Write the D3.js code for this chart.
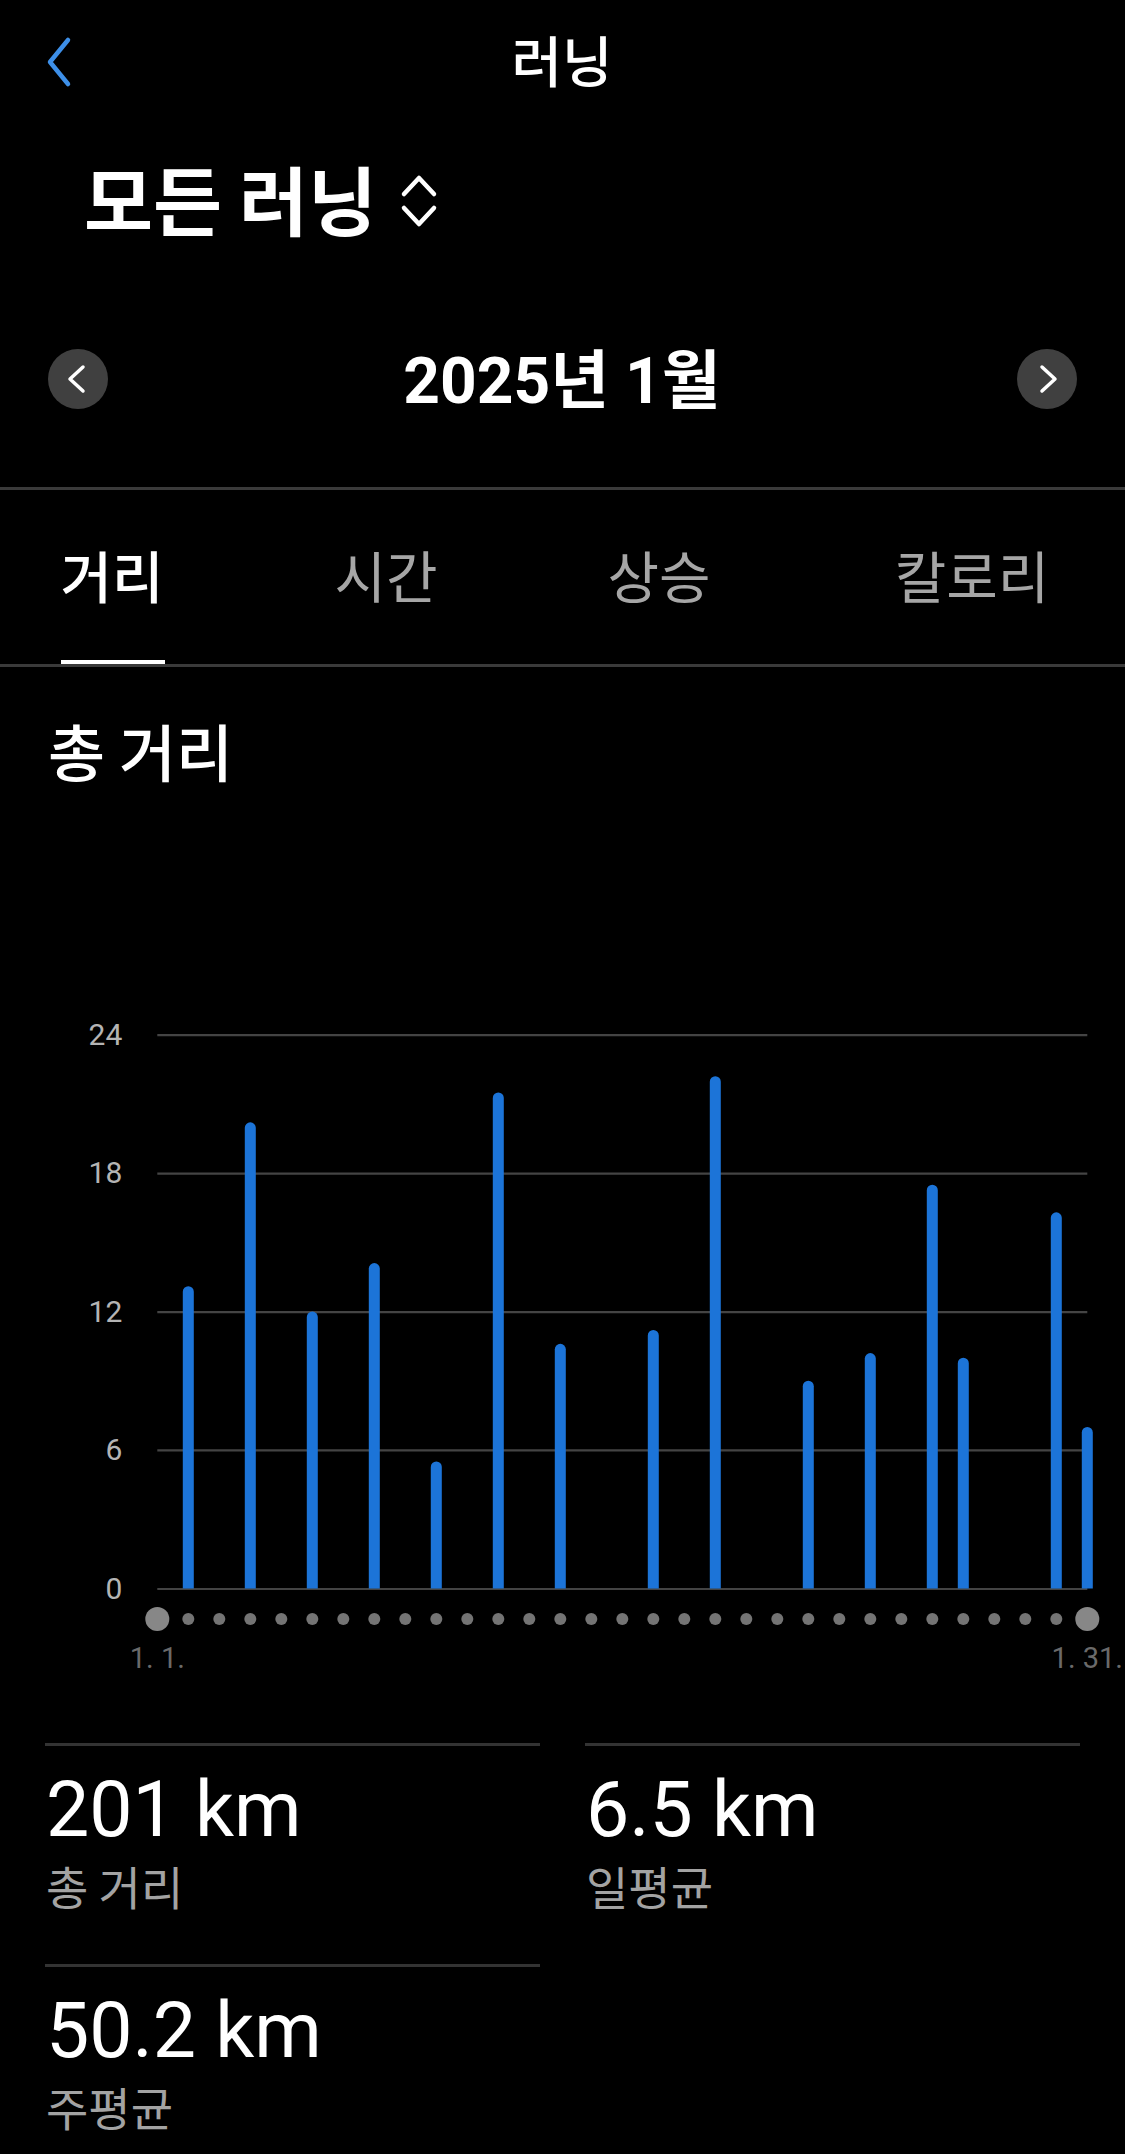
<!DOCTYPE html>
<html>
<head>
<meta charset="utf-8">
<style>
  html, body { margin: 0; padding: 0; background: #000; }
  svg { display: block; background: #000; }
  .kr { font-family: "Noto Sans CJK KR", sans-serif; }
  .num { font-family: Roboto, "Noto Sans CJK KR", sans-serif; }
</style>
<script src="https://cdnjs.cloudflare.com/ajax/libs/d3/7.8.5/d3.min.js"></script>
</head>
<body>
<div id="page"></div>
<script>
// data (January 2025, km per run)
const runDays = [2, 4, 6, 8, 10, 12, 14, 17, 19, 22, 24, 26, 27, 30, 31];
const runKm = [13.1, 20.2, 12.0, 14.1, 5.5, 21.5, 10.6, 11.2, 22.2, 9.0, 10.2, 17.5, 10.0, 16.3, 7.0];
const allDays = d3.range(1, 32);
const yTicks = [0, 6, 12, 18, 24];
const dayLabels = ["1. 1.", "1. 31."];
const tabNames = ["거리", "시간", "상승", "칼로리"];
const statValues = ["201 km", "6.5 km", "50.2 km"];
const statNames = ["총 거리", "일평균", "주평균"];

const W = 1125, H = 2154;

const svg = d3.select("#page").append("svg")
    .attr("width", W)
    .attr("height", H);

// ---- header ----
svg.append("path")
    .attr("d", "M68,40 L50,62 L68,84")
    .attr("fill", "none")
    .attr("stroke", "#3d8fe8")
    .attr("stroke-width", 4.5)
    .attr("stroke-linecap", "round")
    .attr("stroke-linejoin", "round");

svg.append("text").attr("class", "kr")
    .attr("x", 562).attr("y", 82)
    .attr("text-anchor", "middle")
    .attr("font-size", 55).attr("font-weight", 500)
    .attr("fill", "#fff")
    .text("러닝");

svg.append("text").attr("class", "kr")
    .attr("x", 84).attr("y", 230)
    .attr("font-size", 75).attr("font-weight", 700)
    .attr("letter-spacing", 0)
    .attr("fill", "#fff")
    .text("모든 러닝");

// up/down chevrons
svg.append("path")
    .attr("d", "M404,194 L419,178 L434,194 M404,208 L419,224 L434,208")
    .attr("fill", "none")
    .attr("stroke", "#fff")
    .attr("stroke-width", 4.5)
    .attr("stroke-linecap", "round")
    .attr("stroke-linejoin", "round");

// month selector
const navBtns = [{cx: 78, dir: -1}, {cx: 1047, dir: 1}];
svg.selectAll("circle.nav")
  .data(navBtns)
  .join("circle")
    .attr("class", "nav")
    .attr("cx", d => d.cx).attr("cy", 379).attr("r", 30)
    .attr("fill", "#404040");
svg.selectAll("path.navArrow")
  .data(navBtns)
  .join("path")
    .attr("class", "navArrow")
    .attr("d", d => d.dir < 0
        ? `M${d.cx + 5},367 L${d.cx - 8},379 L${d.cx + 5},391`
        : `M${d.cx - 5},367 L${d.cx + 8},379 L${d.cx - 5},391`)
    .attr("fill", "none")
    .attr("stroke", "#fff")
    .attr("stroke-width", 3.5)
    .attr("stroke-linecap", "round")
    .attr("stroke-linejoin", "round");

svg.append("text").attr("class", "num")
    .attr("x", 562).attr("y", 403)
    .attr("text-anchor", "middle")
    .attr("font-size", 64).attr("font-weight", 700)
    .attr("fill", "#fff")
    .text("2025년 1월");

// ---- tabs ----
svg.append("rect").attr("x", 0).attr("y", 487).attr("width", W).attr("height", 3).attr("fill", "#3a3a3a");
svg.append("rect").attr("x", 0).attr("y", 664).attr("width", W).attr("height", 3).attr("fill", "#3a3a3a");

const tabX = [112, 386, 659, 972];
svg.selectAll("text.tab")
  .data(tabNames)
  .join("text")
    .attr("class", "tab kr")
    .attr("x", (d, i) => tabX[i]).attr("y", 598)
    .attr("text-anchor", "middle")
    .attr("font-size", 56)
    .attr("font-weight", (d, i) => i === 0 ? 500 : 400)
    .attr("fill", (d, i) => i === 0 ? "#fff" : "#a6a6a6")
    .text(d => d);
svg.append("rect").attr("x", 61).attr("y", 660).attr("width", 104).attr("height", 4).attr("fill", "#fff");

svg.append("text").attr("class", "kr")
    .attr("x", 48).attr("y", 777)
    .attr("font-size", 62).attr("font-weight", 500)
    .attr("fill", "#fff")
    .text("총 거리");

// ---- chart ----
const x = d3.scaleLinear().domain([1, 31]).range([157.3, 1087.3]);
const y = d3.scaleLinear().domain([0, 24]).range([1588.4, 1034.7]);

const yAxis = svg.append("g")
    .attr("transform", `translate(${x(1)},0)`)
    .call(d3.axisLeft(y).tickValues(yTicks).tickSize(-(x(31) - x(1))).tickPadding(35));
yAxis.select(".domain").remove();
yAxis.selectAll(".tick line")
    .attr("stroke", d => d === 0 ? "#5a5a5a" : "#444")
    .attr("stroke-width", d => d === 0 ? 1.5 : 2.2);
yAxis.selectAll(".tick text")
    .attr("class", "num")
    .attr("font-size", 30)
    .attr("fill", "#b4b4b4");

const bw = 11, br = bw / 2;
svg.append("g")
  .selectAll("path")
  .data(runDays.map((d, i) => ({day: d, km: runKm[i]})))
  .join("path")
    .attr("d", d => {
      const cx = x(d.day), top = y(d.km), base = y(0);
      return `M${cx - br},${base} V${top + br} A${br},${br} 0 0 1 ${cx + br},${top + br} V${base} Z`;
    })
    .attr("fill", "#1c74d8");

svg.append("g")
  .selectAll("circle")
  .data(allDays)
  .join("circle")
    .attr("cx", d => x(d))
    .attr("cy", 1619)
    .attr("r", d => (d === 1 || d === 31) ? 12 : 6)
    .attr("fill", d => (d === 1 || d === 31) ? "#878787" : "#747474");

svg.selectAll("text.dayLabel")
  .data(dayLabels)
  .join("text")
    .attr("class", "dayLabel num")
    .attr("x", (d, i) => i === 0 ? x(1) : x(31))
    .attr("y", 1668)
    .attr("text-anchor", "middle")
    .attr("font-size", 29)
    .attr("fill", "#6a6a6a")
    .text(d => d);

// ---- summary ----
const statPos = [{x: 45, y: 1743}, {x: 585, y: 1743}, {x: 45, y: 1964}];
svg.selectAll("rect.sep")
  .data(statPos)
  .join("rect")
    .attr("class", "sep")
    .attr("x", d => d.x).attr("y", d => d.y)
    .attr("width", 495).attr("height", 3)
    .attr("fill", "#333");

svg.selectAll("text.statVal")
  .data(statValues)
  .join("text")
    .attr("class", "statVal num")
    .attr("x", (d, i) => statPos[i].x + 1)
    .attr("y", (d, i) => statPos[i].y + 93)
    .attr("font-size", 77)
    .attr("fill", "#fff")
    .text(d => d);

svg.selectAll("text.statName")
  .data(statNames)
  .join("text")
    .attr("class", "statName kr")
    .attr("x", (d, i) => statPos[i].x + 1)
    .attr("y", (d, i) => statPos[i].y + 162)
    .attr("font-size", 46)
    .attr("fill", "#a3a3a3")
    .text(d => d);
</script>
</body>
</html>
